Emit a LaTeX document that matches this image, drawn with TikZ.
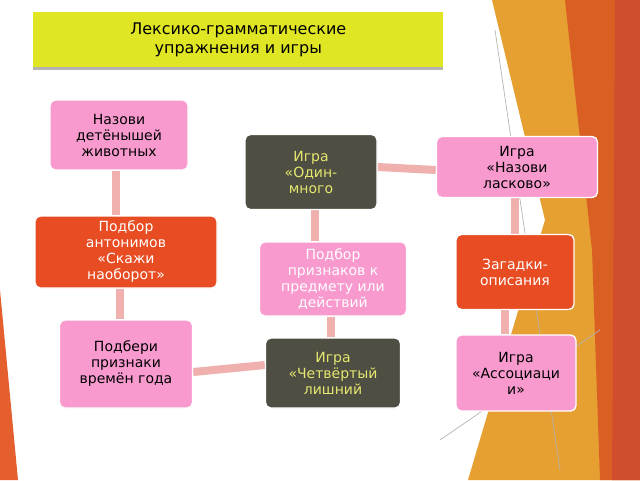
\documentclass[tikz,border=0pt]{standalone}
\usepackage{fontspec}
\setmainfont{DejaVu Sans}
\usetikzlibrary{calc}
\pgfdeclarelayer{deco}
\pgfdeclarelayer{bars}
\pgfsetlayers{deco,bars,main}
\begin{document}
\begin{tikzpicture}[x=0.75pt,y=-0.75pt,
 box/.style={draw=white,line width=1pt,rounded corners=4pt,align=center,font=\fontsize{10.5}{12}\selectfont,inner sep=2pt},
 pinkb/.style={box,fill=pinkc,text=black},
 pinkw/.style={box,fill=pinkc,text=white},
 redb/.style={box,fill=redc,text=white},
 grayb/.style={box,fill=grayc,text=yelc},
 bar/.style={line width=6pt,draw=barc}]
\definecolor{pinkc}{HTML}{F99ACF}
\definecolor{redc}{HTML}{E84C22}
\definecolor{grayc}{HTML}{4E4E42}
\definecolor{yelc}{HTML}{E6E870}
\definecolor{barc}{HTML}{EFB0AE}
\useasboundingbox (0,0) rectangle (640,480);
\begin{pgfonlayer}{deco}
\fill[white] (0,0) rectangle (640,480);
\fill[color={rgb,255:red,230;green,160;blue,50}] (492,0)--(640,0)--(640,480)--(468,480)--(545,220)--cycle;
\fill[color={rgb,255:red,218;green,95;blue,35}] (565,0)--(640,0)--(640,480)--(600,480)--(592,250)--cycle;
\fill[color={rgb,255:red,208;green,78;blue,45}] (615,0)--(640,0)--(640,480)--(612,480)--cycle;
\fill[color={rgb,255:red,228;green,95;blue,45}] (0,290)--(18,480)--(0,480)--cycle;
\draw[gray!60,line width=0.5pt] (495,30)--(560,470);
\draw[gray!60,line width=0.5pt] (440,440)--(600,330);
\fill[gray!60] (33,66) rectangle (443,70);
\end{pgfonlayer}
\node[fill={rgb,255:red,224;green,230;blue,36},minimum width=410*0.75pt,minimum height=55*0.75pt,anchor=north west,align=center,inner sep=0pt,font=\fontsize{12}{14}\selectfont] (title) at (33,12) {Лексико-грамматические\\упражнения и игры};
\node[pinkb,minimum width=138*0.75pt,minimum height=70*0.75pt] (n1) at (119,135) {Назови\\детёнышей\\животных};
\node[grayb,minimum width=132*0.75pt,minimum height=75*0.75pt] (n2) at (311,172) {Игра\\«Один-\\много};
\node[pinkb,minimum width=161*0.75pt,minimum height=61*0.75pt] (n3) at (517,167) {Игра\\«Назови\\ласково»};
\node[redb,minimum width=182*0.75pt,minimum height=72*0.75pt] (n4) at (126,252) {Подбор\\антонимов\\«Скажи\\наоборот»};
\node[pinkw,minimum width=147*0.75pt,minimum height=74*0.75pt] (n5) at (333,279) {Подбор\\признаков к\\предмету или\\действий};
\node[redb,minimum width=118*0.75pt,minimum height=75*0.75pt] (n6) at (515,272) {Загадки-\\описания};
\node[pinkb,minimum width=133*0.75pt,minimum height=88*0.75pt] (n7) at (126,364) {Подбери\\признаки\\времён года};
\node[grayb,minimum width=135*0.75pt,minimum height=70*0.75pt] (n8) at (333,373) {Игра\\«Четвёртый\\лишний};
\node[pinkb,minimum width=120*0.75pt,minimum height=76*0.75pt] (n9) at (516,373) {Игра\\«Ассоциаци\\и»};
\begin{pgfonlayer}{bars}
\draw[bar] ($(n1.south)+(-3,0)$) -- ($(n4.north)+(-10,0)$);
\draw[bar] ($(n4.south)+(-6,0)$) -- ($(n7.north)+(-6,0)$);
\draw[bar] ($(n7.east)+(0,8)$) -- ($(n8.west)+(0,-8)$);
\draw[bar] ($(n8.north)+(-2,0)$) -- ($(n5.south)+(-2,0)$);
\draw[bar] ($(n5.north)+(-18,0)$) -- ($(n2.south)+(4,0)$);
\draw[bar] ($(n2.east)+(0,-5)$) -- ($(n3.west)+(0,3)$);
\draw[bar] ($(n3.south)+(-2,0)$) -- ($(n6.north)+(0,0)$);
\draw[bar] ($(n6.south)+(-10,0)$) -- ($(n9.north)+(-11,0)$);
\end{pgfonlayer}
\end{tikzpicture}
\end{document}
